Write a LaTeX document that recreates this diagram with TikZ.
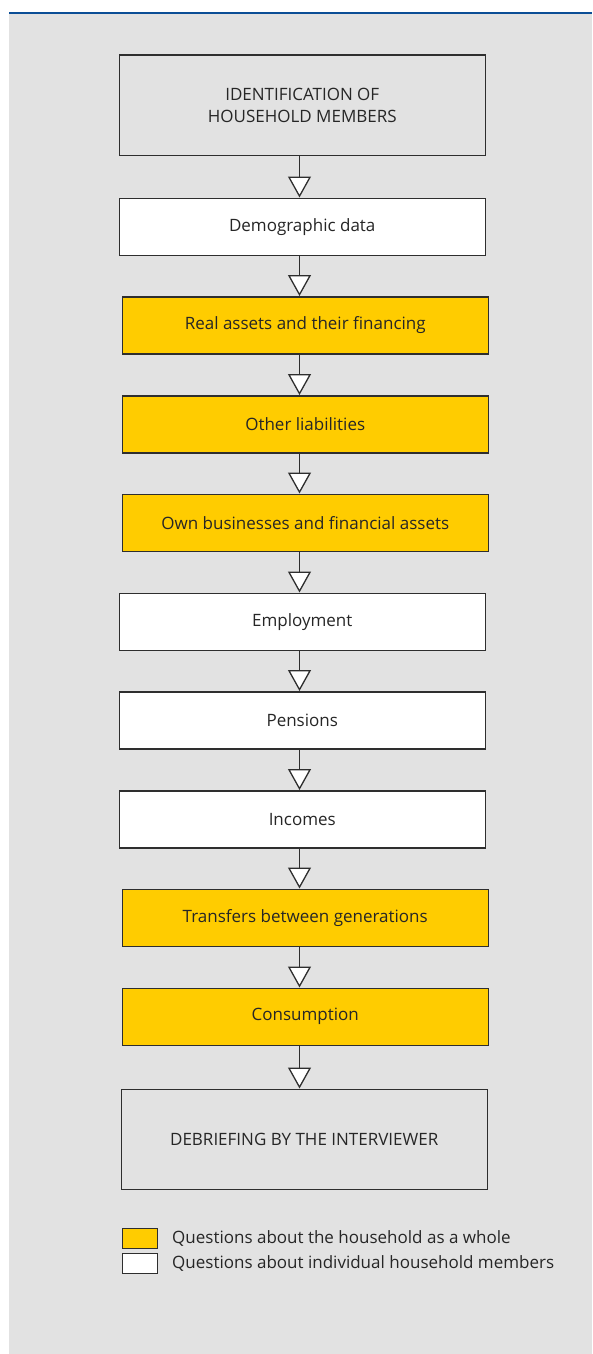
\documentclass[tikz,border=0pt]{standalone}
\usepackage{fontspec}
\setmainfont{Open Sans}
\usetikzlibrary{arrows.meta}

\definecolor{panel}{HTML}{E2E2E2}
\definecolor{rulebar}{HTML}{0B4E96}
\definecolor{hhyellow}{HTML}{FFCC00}
\definecolor{boxline}{HTML}{2E2E2E}

\begin{document}
\begin{tikzpicture}[x=1pt,y=-1pt,
    flow/.style={draw=boxline,line width=1.3pt,-{Triangle[width=23pt,length=21pt,fill=white]}}]
    \tikzset{every node/.style={font=\fontsize{17}{22}\selectfont,text=black!85}}
    \tikzset{stage/.style={draw=boxline,line width=1.5pt,minimum width=366pt,minimum height=57pt,inner sep=0pt,anchor=north west,align=center}}
    \tikzset{whole/.style={stage,fill=hhyellow}, member/.style={stage,fill=white}, frame/.style={stage,fill=panel,minimum height=100pt}}

    \useasboundingbox (0,0) rectangle (592,1354);
    \fill [panel] (9,14) rectangle (592,1354);
    \draw [rulebar,line width=2.5pt] (9,13) -- (592,13);

    % questionnaire sections, top to bottom
    \node [frame] (ident) at (118.5,54.5) {IDENTIFICATION OF\\HOUSEHOLD MEMBERS};
    \node [member] (demog) at (118.5,197.5) {Demographic data};
    \node [whole] (realest) at (121.5,296) {Real assets and their financing};
    \node [whole] (liab) at (121.5,395) {Other liabilities};
    \node [whole] (busin) at (121.5,493.5) {Own businesses and financial assets};
    \node [member] (employ) at (118.5,592.5) {Employment};
    \node [member] (pension) at (118.5,691) {Pensions};
    \node [member] (income) at (118.5,790) {Incomes};
    \node [whole] (transf) at (121.5,888.5) {Transfers between generations};
    \node [whole] (consum) at (121.5,987.5) {Consumption};
    \node [frame] (debrief) at (120.5,1088.5) {DEBRIEFING BY THE INTERVIEWER};

    \coordinate (spine) at (299.5,0);
    \foreach \a/\b in {ident/demog,demog/realest,realest/liab,liab/busin,busin/employ,
                       employ/pension,pension/income,income/transf,transf/consum,consum/debrief}
        \draw [flow] (\a.south -| spine) -- (\b.north -| spine);

    % legend
    \node [draw=boxline,line width=1.5pt,fill=hhyellow,minimum width=35pt,minimum height=20pt,inner sep=0pt,anchor=north west] (keyhh) at (121.5,1227.5) {};
    \node [draw=boxline,line width=1.5pt,fill=white,minimum width=35pt,minimum height=20pt,inner sep=0pt,anchor=north west] (keyind) at (121.5,1252.5) {};
    \node [anchor=west,inner sep=0pt] (keyhhtext) at (172,1238) {Questions about the household as a whole};
    \node [anchor=west,inner sep=0pt] (keyindtext) at (172,1263) {Questions about individual household members};
\end{tikzpicture}
\end{document}
